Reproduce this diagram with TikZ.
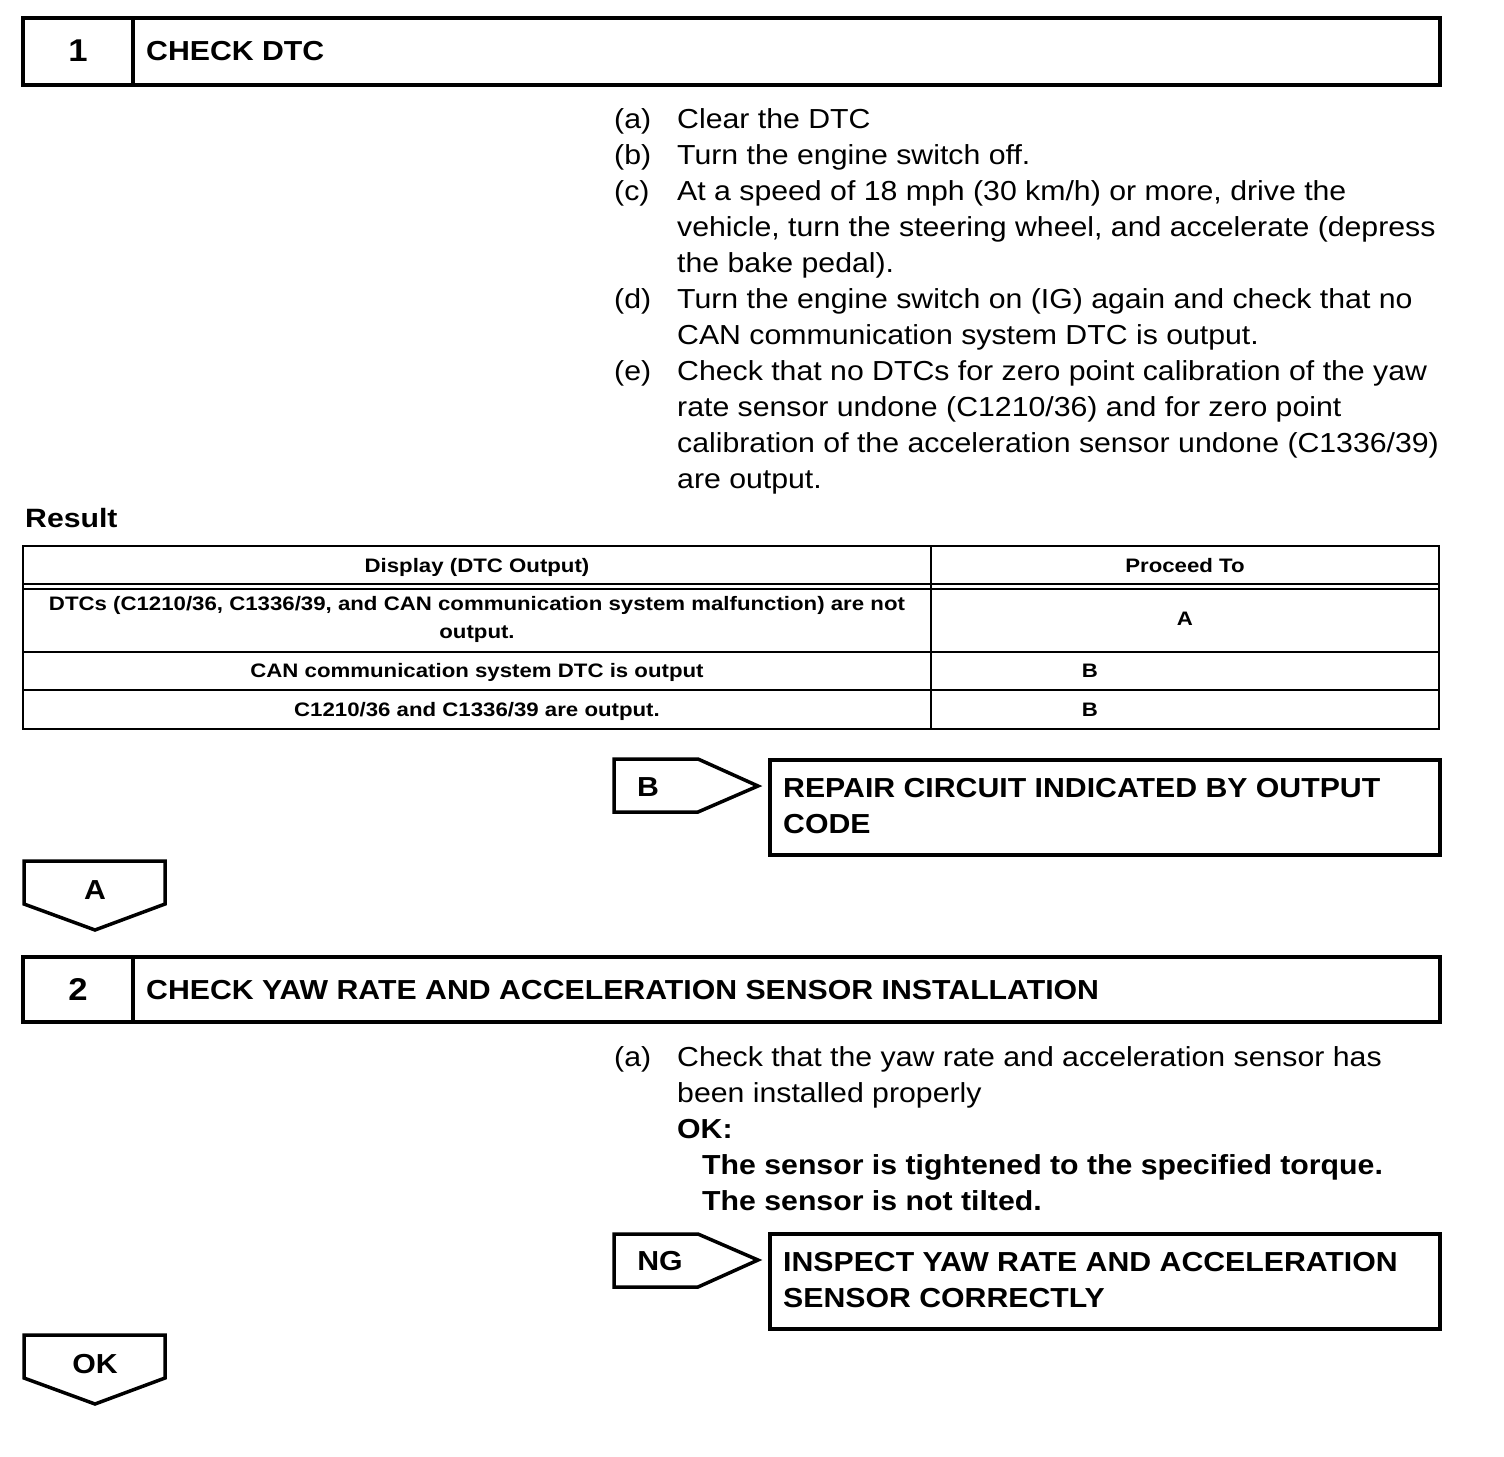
\documentclass[tikz,border=0pt]{standalone}
\usepackage{fontspec}
\setmainfont[FakeStretch=1.1]{Liberation Sans}
\newfontfamily\tabfont[FakeStretch=1.14]{Liberation Sans}
\begin{document}
\begin{tikzpicture}[x=1pt,y=-1pt,line join=miter]
\tikzset{
  frame/.style={draw,line width=4pt},
  tabline/.style={draw,line width=2.5pt},
  tagline/.style={draw,line width=3.5pt},
  numtxt/.style={font=\bfseries\fontsize{31.5}{36}\selectfont,inner sep=0,anchor=base},
  headtxt/.style={font=\bfseries\fontsize{27.5}{36}\selectfont,inner sep=0,anchor=base west},
  body/.style={font=\fontsize{27.5}{36}\selectfont,inner sep=0,anchor=north west,align=left},
  bodyb/.style={font=\bfseries\fontsize{27.5}{36}\selectfont,inner sep=0,anchor=north west,align=left},
  tabtxt/.style={font=\tabfont\bfseries\fontsize{19.5}{28}\selectfont,inner sep=0,anchor=base},
  tabtxtm/.style={font=\tabfont\bfseries\fontsize{19.5}{28}\selectfont,inner sep=0,anchor=north,align=center},
  tagtxt/.style={font=\bfseries\fontsize{27.5}{36}\selectfont,inner sep=0,anchor=base},
}
\path[use as bounding box] (0,0) rectangle (1504,1456);

% ---- Step 1 header
\draw[frame] (23,18) rectangle (1440,85);
\draw[frame] (133,18) -- (133,85);
\node[numtxt] (n1) at (78,61) {1};
\node[headtxt] (h1) at (146,60) {CHECK DTC};

% ---- Step 1 items
\node[body] (la) at (614,102.8) {\strut(a)};
\node[body] (ta) at (677,102.8) {\strut Clear the DTC};
\node[body] (lb) at (614,138.8) {\strut(b)};
\node[body] (tb) at (677,138.8) {\strut Turn the engine switch off.};
\node[body] (lc) at (614,174.8) {\strut(c)};
\node[body] (tc) at (677,174.8) {\strut At a speed of 18 mph (30 km/h) or more, drive the\\vehicle, turn the steering wheel, and accelerate (depress\\the bake pedal).};
\node[body] (ld) at (614,282.8) {\strut(d)};
\node[body] (td) at (677,282.8) {\strut Turn the engine switch on (IG) again and check that no\\CAN communication system DTC is output.};
\node[body] (le) at (614,354.8) {\strut(e)};
\node[body] (te) at (677,354.8) {\strut Check that no DTCs for zero point calibration of the yaw\\rate sensor undone (C1210/36) and for zero point\\calibration of the acceleration sensor undone (C1336/39)\\are output.};

% ---- Result table
\node[headtxt,font=\tabfont\bfseries\fontsize{26.5}{36}\selectfont] (res) at (25,527) {Result};
\draw[tabline] (23,546) rectangle (1439,729);
\draw[tabline] (931,546) -- (931,729);
\draw[draw,line width=2pt] (23,583.5) -- (1439,583.5);
\draw[draw,line width=2pt] (23,588.5) -- (1439,588.5);
\draw[tabline] (23,652) -- (1439,652);
\draw[tabline] (23,690) -- (1439,690);
\node[tabtxt] (c11) at (477,572) {Display (DTC Output)};
\node[tabtxt] (c12) at (1185,572) {Proceed To};
\node[tabtxtm] (c21) at (477,590.4) {\strut DTCs (C1210/36, C1336/39, and CAN communication system malfunction) are not\\output.};
\node[tabtxt] (c22) at (1185,625) {A};
\node[tabtxt] (c31) at (477,677) {CAN communication system DTC is output};
\node[tabtxt] (c32) at (1090,677) {B};
\node[tabtxt] (c41) at (477,716) {C1210/36 and C1336/39 are output.};
\node[tabtxt] (c42) at (1090,716) {B};

% ---- B branch
\draw[tagline] (614,759) -- (698,759) -- (758,786) -- (698,812) -- (614,812) -- cycle;
\node[tagtxt] (tagB) at (648,796) {B};
\draw[frame] (770,760) rectangle (1440,855);
\node[bodyb] (rep) at (783,771.8) {\strut REPAIR CIRCUIT INDICATED BY OUTPUT\\CODE};

% ---- A down tag
\draw[tagline] (24,861) -- (165,861) -- (165,904) -- (95,930) -- (24,904) -- cycle;
\node[tagtxt] (tagA) at (95,899.5) {A};

% ---- Step 2 header
\draw[frame] (23,957) rectangle (1440,1022);
\draw[frame] (133,957) -- (133,1022);
\node[numtxt] (n2) at (78,1000) {2};
\node[headtxt] (h2) at (146,999) {CHECK YAW RATE AND ACCELERATION SENSOR INSTALLATION};

% ---- Step 2 items
\node[body] (l2a) at (614,1040.8) {\strut(a)};
\node[body] (t2a) at (677,1040.8) {\strut Check that the yaw rate and acceleration sensor has\\been installed properly\\\textbf{OK:}\\\hspace*{25pt}\textbf{The sensor is tightened to the specified torque.}\\\hspace*{25pt}\textbf{The sensor is not tilted.}};

% ---- NG branch
\draw[tagline] (614,1234) -- (698,1234) -- (758,1260) -- (698,1287) -- (614,1287) -- cycle;
\node[tagtxt] (tagNG) at (660,1270) {NG};
\draw[frame] (770,1234) rectangle (1440,1329);
\node[bodyb] (insp) at (783,1245.8) {\strut INSPECT YAW RATE AND ACCELERATION\\SENSOR CORRECTLY};

% ---- OK down tag
\draw[tagline] (24,1335) -- (165,1335) -- (165,1378) -- (95,1404) -- (24,1378) -- cycle;
\node[tagtxt] (tagOK) at (95,1373) {OK};
\end{tikzpicture}
\end{document}
